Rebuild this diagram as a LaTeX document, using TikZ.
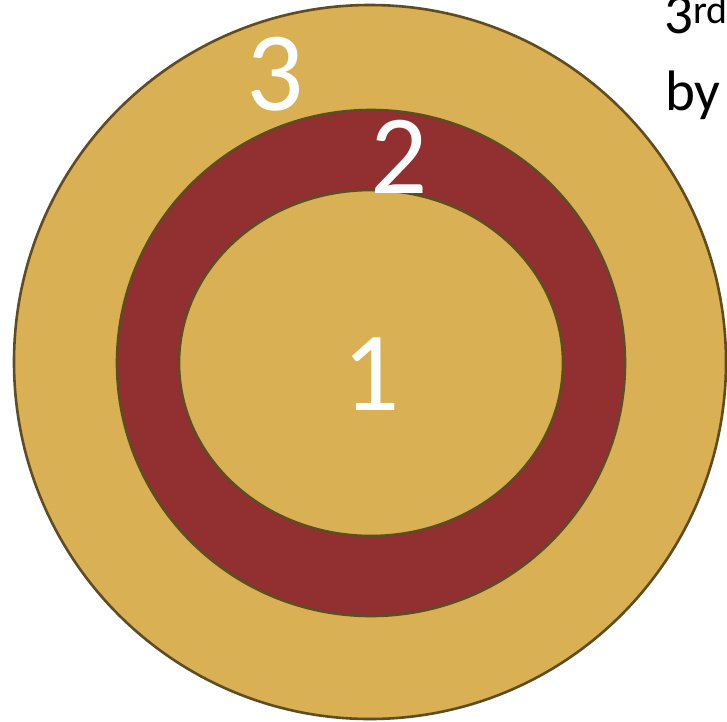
\documentclass[tikz,border=0pt]{standalone}
\usepackage{fontspec}
\setmainfont{Carlito}
\definecolor{ringgold}{HTML}{D9B053}
\definecolor{ringred}{HTML}{922F30}
\definecolor{ringedge}{HTML}{5F4C22}
\tikzset{
  ring/.style={draw=ringedge, line width=2.6pt},
  digit/.style={text=white, anchor=base, inner sep=0pt,
                font=\fontsize{113}{113}\selectfont},
  side/.style={text=black, anchor=base west, inner sep=0pt,
               font=\fontsize{57}{57}\selectfont}
}
\begin{document}
\begin{tikzpicture}[x=1pt,y=-1pt]
  \useasboundingbox (0,0) rectangle (727,721);
  \clip (0,0) rectangle (727,721);
  \fill[white] (0,0) rectangle (727,721);

  % rings, outside in
  \draw[ring,fill=ringgold] (370,362) ellipse [x radius=356, y radius=357];
  \draw[ring,fill=ringred] (371,363) ellipse [x radius=254, y radius=253];
  \draw[ring,fill=ringgold] (371,363) ellipse [x radius=192, y radius=173];

  \node[digit] (three) at (275,110) {3};
  \node[digit] (two) at (399,193) {2};
  \node[digit] (one) at (371,410) {1};

  % cut-off text at the right edge
  \node[side] (third) at (664,33) {3\textsuperscript{rd}};
  \node[side] (by) at (665,110) {by};
\end{tikzpicture}
\end{document}
